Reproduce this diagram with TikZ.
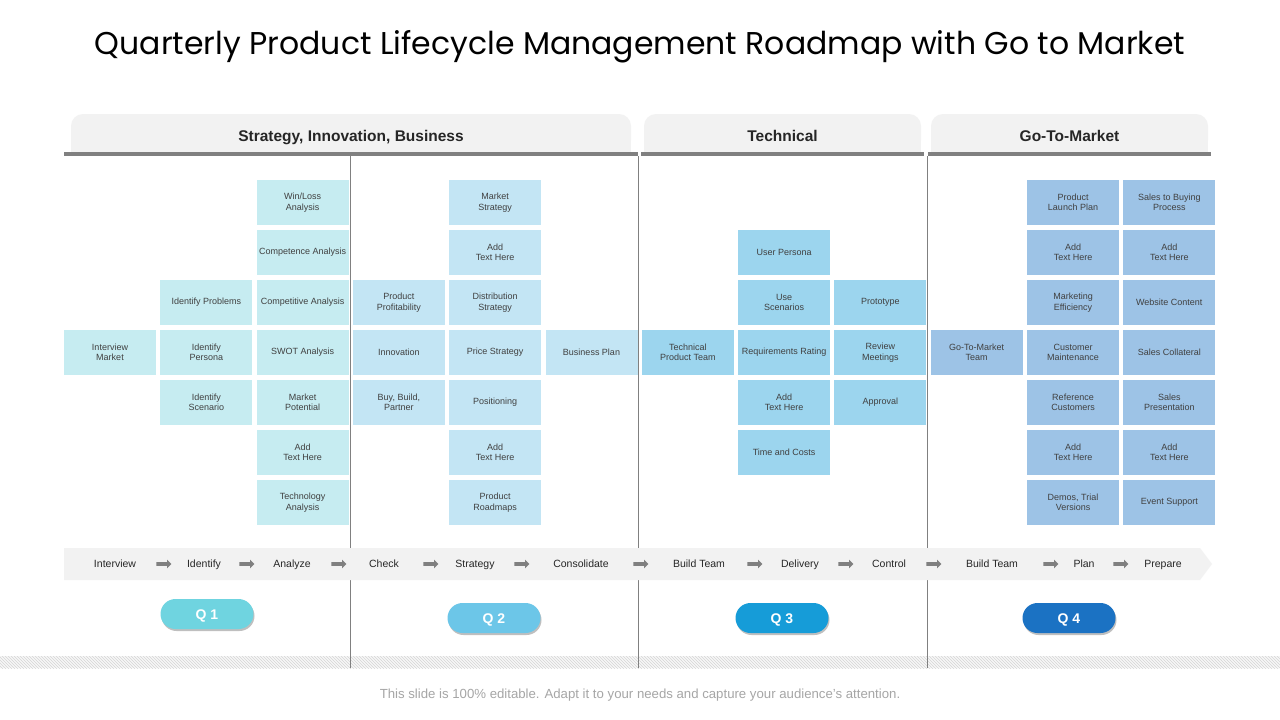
\documentclass[tikz,border=0pt]{standalone}
\usepackage{fontspec}
\setmainfont{Liberation Sans}
\newfontfamily\titlefont{Poppins}
\usetikzlibrary{shapes.arrows,shadows,patterns}
\definecolor{txtgray}{HTML}{404040}
\definecolor{tabgray}{HTML}{F2F2F2}
\definecolor{linegray}{HTML}{808080}
\definecolor{qonebox}{HTML}{C6ECF1}
\definecolor{qtwobox}{HTML}{C3E5F4}
\definecolor{qthreebox}{HTML}{9CD5EE}
\definecolor{qfourbox}{HTML}{9DC3E6}
\definecolor{qonepill}{HTML}{6FD4E0}
\definecolor{qtwopill}{HTML}{6CC6E8}
\definecolor{qthreepill}{HTML}{169CD8}
\definecolor{qfourpill}{HTML}{1B72C3}
\definecolor{hatchgray}{HTML}{D6D6D6}

\begin{document}
\begin{tikzpicture}[x=1pt, y=-1pt,
    every node/.style={inner sep=0pt, text=txtgray, font=\fontsize{9}{10.4}\selectfont},
    box/.style={minimum width=92pt, minimum height=45pt, align=center},
    headtext/.style={font=\fontsize{15.5}{18}\selectfont\bfseries, text=black!85, text height=11pt, text depth=3pt},
    steptext/.style={font=\fontsize{10.5}{12}\selectfont, text=black!85, text height=8pt, text depth=2pt},
    flowarrow/.style={single arrow, fill=linegray, inner sep=0pt, text height=3.5pt, text depth=0pt,
        single arrow head extend=2.5pt, minimum height=15pt},
    pill/.style={minimum width=93pt, minimum height=30pt, rounded corners=15pt, text=white,
        font=\fontsize{14}{16}\selectfont\bfseries, text height=10pt, text depth=0pt,
        drop shadow={shadow xshift=1pt, shadow yshift=-2pt, opacity=0.25, fill=black}}]
    \fill[white] (0,0) rectangle (1280,720);
    \useasboundingbox (0,0) rectangle (1280,720);
    \node[font=\titlefont\fontsize{31.5}{36}\selectfont, text=black] (title) at (640,47)
        {Quarterly Product Lifecycle Management Roadmap with Go to Market};
    % header tabs
    \foreach \a/\b/\t/\n in {71/631/{Strategy, Innovation, Business}/sib, 644/921/Technical/tech, 931/1208/Go-To-Market/gtm} {
        \fill[tabgray, rounded corners=12pt] (\a,114) rectangle (\b,152);
        \fill[tabgray] (\a,132) rectangle (\b,152);
        \node[headtext] (head-\n) at ({(\a+\b)/2},137) {\t};
    }
    \foreach \a/\b in {64/638, 641/924, 928/1211}
        \fill[linegray] (\a,152) rectangle (\b,156);
    % hatched band and dividers
    \fill[white!97!black] (0,656) rectangle (1280,668);
    \fill[pattern=north west lines, pattern color=hatchgray] (0,656) rectangle (1280,668);
    \foreach \x in {350.5,638.5,927}
        \draw[linegray, line width=0.8pt] (\x,156) -- (\x,668);
    % process bar
    \fill[tabgray] (64,548) -- (1200,548) -- (1212,564) -- (1200,580) -- (64,580) -- cycle;
    \foreach \x/\t [count=\i] in {115/Interview, 204/Identify, 292/Analyze, 384/Check, 475/Strategy, 581/Consolidate,
        699/Build Team, 800/Delivery, 889/Control, 992/Build Team, 1084/Plan, 1163/Prepare}
        \node[steptext] (step-\i) at (\x,564) {\t};
    \foreach \x [count=\i] in {163,246,338,430,521,640,754,845,933,1050,1120}
        \node[flowarrow] (arrow-\i) at (\x,564) {};
    % Q1
    \foreach \c/\r/\t in {0/3/{Interview\\Market}, 1/2/{Identify Problems}, 1/3/{Identify\\Persona}, 1/4/{Identify\\Scenario},
        2/0/{Win/Loss\\Analysis}, 2/1/{Competence Analysis}, 2/2/{Competitive Analysis}, 2/3/{SWOT Analysis},
        2/4/{Market\\Potential}, 2/5/{Add\\Text Here}, 2/6/{Technology\\Analysis}}
        \node[box, fill=qonebox] (box-\c-\r) at ({110+96.3*\c},{202.5+50*\r}) {\t};
    % Q2
    \foreach \c/\r/\t in {3/2/{Product\\Profitability}, 3/3/{Innovation}, 3/4/{Buy, Build,\\Partner},
        4/0/{Market\\Strategy}, 4/1/{Add\\Text Here}, 4/2/{Distribution\\Strategy}, 4/3/{Price Strategy},
        4/4/{Positioning}, 4/5/{Add\\Text Here}, 4/6/{Product\\Roadmaps}, 5/3/{Business Plan}}
        \node[box, fill=qtwobox] (box-\c-\r) at ({110+96.3*\c},{202.5+50*\r}) {\t};
    % Q3
    \foreach \c/\r/\t in {6/3/{Technical\\Product Team}, 7/1/{User Persona}, 7/2/{Use\\Scenarios},
        7/3/{Requirements Rating}, 7/4/{Add\\Text Here}, 7/5/{Time and Costs},
        8/2/{Prototype}, 8/3/{Review\\Meetings}, 8/4/{Approval}}
        \node[box, fill=qthreebox] (box-\c-\r) at ({110+96.3*\c},{202.5+50*\r}) {\t};
    % Q4
    \foreach \c/\r/\t in {9/3/{Go-To-Market\\Team}, 10/0/{Product\\Launch Plan}, 10/1/{Add\\Text Here},
        10/2/{Marketing\\Efficiency}, 10/3/{Customer\\Maintenance}, 10/4/{Reference\\Customers},
        10/5/{Add\\Text Here}, 10/6/{Demos, Trial\\Versions}, 11/0/{Sales to Buying\\Process},
        11/1/{Add\\Text Here}, 11/2/{Website Content}, 11/3/{Sales Collateral}, 11/4/{Sales\\Presentation},
        11/5/{Add\\Text Here}, 11/6/{Event Support}}
        \node[box, fill=qfourbox] (box-\c-\r) at ({110+96.3*\c},{202.5+50*\r}) {\t};
    % quarter pills
    \foreach \x/\y/\c [count=\i] in {207/614/qonepill, 494/618/qtwopill, 782/618/qthreepill, 1069/618/qfourpill}
        \node[pill, fill=\c] (q-\i) at (\x,\y) {Q \i};
    \node[font=\fontsize{13.2}{15}\selectfont, text=black!35] (footer) at (640,695)
        {This slide is 100\% editable. Adapt it to your needs and capture your audience’s attention.};
\end{tikzpicture}
\end{document}
